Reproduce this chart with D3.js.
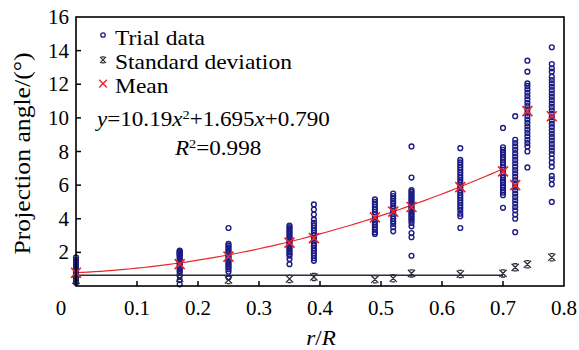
<!DOCTYPE html>
<html>
<head>
<meta charset="utf-8">
<script src="https://cdn.jsdelivr.net/npm/d3@7"></script>
<style>
  body { margin: 0; background: #fff; }
  text { font-family: "Liberation Serif", "Times New Roman", serif; fill: #000; }
</style>
</head>
<body>
<svg id="chart"></svg>
<script>
// r/R positions of the measuring columns
const rPos = [0, 0.17, 0.25, 0.35, 0.39, 0.49, 0.52, 0.55, 0.63, 0.70, 0.72, 0.74, 0.78];

// trial data per column (projection angle, degrees)
const trialData = [
  [1.7, 1.55, 1.4, 1.3, 1.2, 1.1, 1.0, 0.9, 0.8, 0.7, 0.6, 0.5, 0.4, 0.3, 0.2],
  [2.1, 2.05, 2.0, 1.95, 1.9, 1.85, 1.8, 1.7, 1.6, 1.5, 1.4, 1.3, 1.2, 1.1, 1.0, 0.9, 0.8, 0.6, 0.35, 0.1],
  [3.45, 2.5, 2.4, 2.3, 2.2, 2.1, 2.0, 1.9, 1.8, 1.7, 1.6, 1.5, 1.4, 1.3, 1.2, 1.1, 1.0, 0.85, 0.5],
  [3.6, 3.5, 3.4, 3.3, 3.2, 3.1, 3.0, 2.9, 2.8, 2.7, 2.6, 2.5, 2.4, 2.3, 2.2, 2.1, 2.0, 1.9, 1.8, 1.6, 1.3],
  [4.85, 4.55, 4.25, 3.95, 3.75, 3.6, 3.45, 3.3, 3.15, 3.0, 2.85, 2.7, 2.55, 2.4, 2.25, 2.1, 1.95, 1.8, 1.65, 1.5],
  [5.15, 5.0, 4.85, 4.7, 4.55, 4.4, 4.25, 4.1, 3.95, 3.8, 3.65, 3.5, 3.35, 3.2, 3.1],
  [5.5, 5.35, 5.2, 5.05, 4.9, 4.75, 4.6, 4.45, 4.3, 4.15, 4.0, 3.85, 3.7, 3.5, 3.25],
  [8.3, 6.45, 5.7, 5.6, 5.5, 5.4, 5.3, 5.2, 5.1, 5.0, 4.9, 4.8, 4.7, 4.6, 4.5, 4.4, 4.3, 4.2, 4.1, 4.0, 3.9, 3.75, 3.55, 3.15, 2.9, 1.8],
  [8.2, 7.5, 7.35, 7.2, 7.05, 6.9, 6.75, 6.6, 6.45, 6.3, 6.15, 6.0, 5.85, 5.7, 5.55, 5.4, 5.25, 5.1, 4.95, 4.8, 4.65, 4.5, 4.3, 4.15, 3.45],
  [9.4, 8.25, 8.1, 7.95, 7.8, 7.65, 7.5, 7.35, 7.2, 7.05, 6.9, 6.75, 6.6, 6.45, 6.3, 6.15, 6.0, 5.85, 5.7, 5.55, 5.4, 4.65],
  [10.1, 8.7, 8.5, 8.3, 8.1, 7.9, 7.7, 7.5, 7.3, 7.1, 6.9, 6.7, 6.5, 6.3, 6.1, 5.9, 5.7, 5.5, 5.3, 5.1, 4.9, 4.7, 4.5, 4.25, 4.0, 3.2],
  [13.4, 12.75, 12.05, 11.9, 11.7, 11.5, 11.3, 11.1, 10.9, 10.7, 10.5, 10.3, 10.1, 9.9, 9.7, 9.5, 9.3, 9.1, 8.9, 8.7, 8.5, 8.3, 8.0, 7.05],
  [14.2, 13.2, 12.95, 12.75, 12.45, 12.25, 12.05, 11.85, 11.65, 11.45, 11.25, 11.05, 10.85, 10.65, 10.45, 10.25, 10.05, 9.85, 9.65, 9.45, 9.25, 9.05, 8.85, 8.65, 8.45, 8.25, 8.05, 7.85, 7.6, 7.35, 7.1, 6.55, 6.35, 6.05, 5.0]
];

const meanVals = [0.79, 1.3, 1.75, 2.58, 2.85, 4.08, 4.42, 4.7, 5.88, 6.82, 6.0, 10.4, 10.1];
const stdVals = [0.35, 0.46, 0.36, 0.42, 0.54, 0.4, 0.46, 0.75, 0.71, 0.75, 1.11, 1.29, 1.71];

// fitted curve y = a x^2 + b x + c, drawn over 0..0.70
const fitCoef = [10.19, 1.695, 0.790];
const fitRange = [0, 0.70];
// horizontal reference line
const refLine = [[0, 0.64], [0.70, 0.64]];

const xTicks = [0, 0.1, 0.2, 0.3, 0.4, 0.5, 0.6, 0.7, 0.8];
const yTicks = [2, 4, 6, 8, 10, 12, 14, 16];

const W = 579, H = 350;
const svg = d3.select('#chart').attr('width', W).attr('height', H);

const x = d3.scaleLinear().domain([0, 0.8]).range([76, 564]);
const y = d3.scaleLinear().domain([0, 16]).range([286, 17]);

const blue = '#1c1c86';
const red = '#e8262c';
const dark = '#2d2d3a';

// horizontally stretched text, like the reference
const addText = (px, py, size, anchor, sx) => svg.append('text')
  .attr('transform', `translate(${px},${py}) scale(${sx},1)`)
  .attr('text-anchor', anchor)
  .style('font-size', size + 'px');

// reference line
svg.append('path')
  .datum(refLine)
  .attr('fill', 'none')
  .attr('stroke', dark)
  .attr('stroke-width', 1.3)
  .attr('d', d3.line().x(d => x(d[0])).y(d => y(d[1])));

// fitted curve
const fitPts = d3.range(fitRange[0], fitRange[1] + 1e-9, 0.01)
  .map(r => [r, fitCoef[0] * r * r + fitCoef[1] * r + fitCoef[2]]);
svg.append('path')
  .datum(fitPts)
  .attr('fill', 'none')
  .attr('stroke', red)
  .attr('stroke-width', 1.2)
  .attr('d', d3.line().x(d => x(d[0])).y(d => y(d[1])));

// trial data
const pts = [];
trialData.forEach((col, i) => col.forEach(v => pts.push({ r: rPos[i], v: v })));
svg.append('g')
  .selectAll('circle')
  .data(pts)
  .enter().append('circle')
  .attr('cx', d => x(d.r))
  .attr('cy', d => y(d.v))
  .attr('r', 2.4)
  .attr('fill', 'none')
  .attr('stroke', blue)
  .attr('stroke-width', 1.4);

const crossPath = s => `M${-s},${-s}L${s},${s}M${s},${-s}L${-s},${s}`;
const stdPath = s => `M${-s},${-s}L${s},${s}M${s},${-s}L${-s},${s}M${-s * 0.55},${-s}L${s * 0.55},${-s}M${-s * 0.55},${s}L${s * 0.55},${s}`;

// std deviation markers
svg.append('g')
  .selectAll('path')
  .data(stdVals)
  .enter().append('path')
  .attr('transform', (d, i) => `translate(${x(rPos[i])},${y(d)})`)
  .attr('d', stdPath(3.6))
  .attr('fill', 'none')
  .attr('stroke', dark)
  .attr('stroke-width', 1.3);

// mean markers
svg.append('g')
  .selectAll('path')
  .data(meanVals)
  .enter().append('path')
  .attr('transform', (d, i) => `translate(${x(rPos[i])},${y(d)})`)
  .attr('d', crossPath(5))
  .attr('fill', 'none')
  .attr('stroke', red)
  .attr('stroke-width', 1.6);

// frame
svg.append('rect')
  .attr('x', x(0)).attr('y', y(16))
  .attr('width', x(0.8) - x(0)).attr('height', y(0) - y(16))
  .attr('fill', 'none')
  .attr('stroke', '#000')
  .attr('stroke-width', 1.6);

// inward ticks
svg.append('g')
  .selectAll('line')
  .data(xTicks.filter(t => t > 0 && t < 0.8))
  .enter().append('line')
  .attr('x1', d => x(d)).attr('x2', d => x(d))
  .attr('y1', y(0)).attr('y2', y(0) - 5)
  .attr('stroke', '#000').attr('stroke-width', 1.5);
svg.append('g')
  .selectAll('line')
  .data(yTicks.filter(t => t < 16))
  .enter().append('line')
  .attr('x1', x(0)).attr('x2', x(0) + 5)
  .attr('y1', d => y(d)).attr('y2', d => y(d))
  .attr('stroke', '#000').attr('stroke-width', 1.5);

// tick labels
xTicks.forEach(t => {
  addText(x(t) + (t === 0 ? -15 : 0), 315, 20, 'middle', 1.05).text(t === 0 ? '0' : d3.format('.1f')(t));
});
yTicks.forEach(t => {
  addText(69, y(t) + 7, 20, 'end', 1.05).text(t);
});

// axis titles
const xl = addText(321, 345, 21, 'middle', 1.1);
xl.append('tspan').style('font-style', 'italic').text('r');
xl.append('tspan').text('/');
xl.append('tspan').style('font-style', 'italic').text('R');

svg.append('text')
  .attr('transform', `translate(30,${(y(0) + y(16)) / 2 + 2}) rotate(-90)`)
  .attr('text-anchor', 'middle')
  .attr('textLength', 202)
  .attr('lengthAdjust', 'spacingAndGlyphs')
  .style('font-size', '23px')
  .text('Projection angle/(°)');

// legend
const legendItems = [
  { label: 'Trial data', kind: 'circle' },
  { label: 'Standard deviation', kind: 'std' },
  { label: 'Mean', kind: 'mean' }
];
legendItems.forEach((d, i) => {
  const ly = 37 + i * 23.8;
  if (d.kind === 'circle') {
    svg.append('circle').attr('cx', 103).attr('cy', ly - 2).attr('r', 2.2)
      .attr('fill', 'none').attr('stroke', blue).attr('stroke-width', 1.3);
  } else {
    svg.append('path').attr('transform', `translate(103,${ly - 1})`)
      .attr('d', d.kind === 'std' ? stdPath(3) : crossPath(3.8))
      .attr('fill', 'none')
      .attr('stroke', d.kind === 'std' ? dark : red)
      .attr('stroke-width', d.kind === 'std' ? 1.2 : 1.4);
  }
  addText(115, ly + 8, 21, 'start', 1.12).text(d.label);
});

// equation
const eq = addText(97, 126, 21, 'start', 1.1);
eq.append('tspan').style('font-style', 'italic').text('y');
eq.append('tspan').text('=10.19');
eq.append('tspan').style('font-style', 'italic').text('x');
eq.append('tspan').attr('dy', -7).style('font-size', '13px').text('2');
eq.append('tspan').attr('dy', 7).text('+1.695');
eq.append('tspan').style('font-style', 'italic').text('x');
eq.append('tspan').text('+0.790');

const r2 = addText(175, 155, 21, 'start', 1.1);
r2.append('tspan').style('font-style', 'italic').text('R');
r2.append('tspan').attr('dy', -7).style('font-size', '13px').text('2');
r2.append('tspan').attr('dy', 7).text('=0.998');
</script>
</body>
</html>
